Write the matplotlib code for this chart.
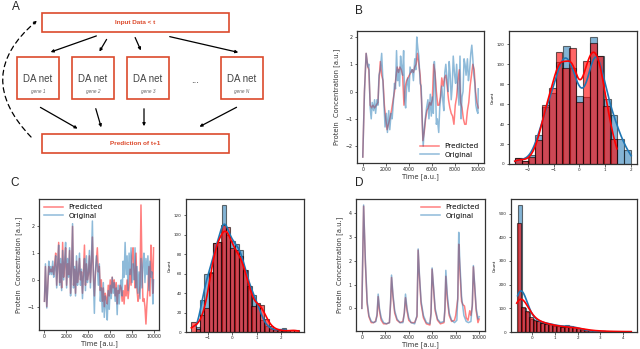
import numpy as np
import matplotlib
matplotlib.use('Agg')
import matplotlib.pyplot as plt
from matplotlib.patches import Rectangle, FancyArrowPatch

# ---------------- data ----------------
gene_labels = ["gene 1", "gene 2", "gene 3", "gene N"]
series_labels = ["Predicted", "Original"]

# Panel B time series
tB_orig = [0,146,292,439,526,643,731,819,936,1023,1111,1228,1316,1404,1520,1637,1754,1842,1930,2047,
           2135,2251,2339,2456,2544,2661,2749,2836,2924,3012,3099,3187,3275,3363,3450,3538,3626,3713,3801,3889,
           4006,4094,4211,4298,4386,4503,4591,4678,4766,4854,4971,5058,5146,5234,5322,5439,5526,5643,5731,5848,
           5936,6023,6111,6199,6287,6374,6462,6579,6667,6754,6842,6930,7018,7105,7193,7310,7398,7485,7573,7661,
           7749,7836,7953,8041,8129,8216,8333,8421,8509,8596,8684,8772,8860,8947,9064,9152,9240,9357,9444,9532,
           9620,9708,9795,9883,9971,10000]
yB_orig = [-2.4,0.0,1.4,0.9,1.0,-0.6,-1.0,-0.4,-0.7,-0.3,
           -0.8,-0.3,-0.5,0.6,0.8,1.4,0.3,-0.5,-1.3,-0.8,
           -1.5,-0.7,-1.4,-0.8,-1.0,-0.3,0.3,0.1,1.5,0.4,
           0.8,0.2,1.3,0.9,0.6,1.5,-0.3,-0.6,0.2,0.5,
           0.0,0.9,0.7,0.8,0.4,1.2,0.8,2.0,1.6,1.3,
           0.3,0.2,-1.0,-2.0,-1.4,-0.9,-0.6,-0.3,-1.0,-0.1,
           -0.9,-0.2,-0.8,1.1,0.4,-1.2,-1.0,-1.5,-0.6,-0.2,
           0.2,-0.3,-0.7,0.7,1.0,0.4,0.0,1.1,0.6,-0.3,
           0.2,1.3,0.6,0.3,1.0,0.2,-0.5,1.3,-1.0,-0.2,
           0.0,1.2,1.0,0.6,1.2,0.4,0.7,1.4,1.7,1.2,
           0.6,0.3,-0.5,-0.7,-0.8,0.1]
tB_pred = [0,146,292,439,526,643,760,877,1023,1170,1316,1404,1520,1637,1754,1871,1988,2105,2222,2339,
           2485,2632,2749,2865,2982,3099,3216,3333,3450,3567,3684,3801,3918,4035,4152,4269,4386,4503,4620,4737,
           4854,4971,5088,5205,5322,5439,5556,5673,5790,5906,6023,6140,6257,6374,6491,6608,6725,6842,6959,7076,
           7193,7310,7427,7544,7661,7778,7895,8012,8129,8246,8363,8480,8596,8713,8830,8947,9064,9181,9298,9415,
           9532,9649,9766,9883,10000]
yB_pred = [-2.4,0.0,1.4,0.9,0.8,-0.5,-0.6,-0.5,-0.6,-0.5,
           -0.4,0.4,1.1,0.6,0.4,-0.5,-1.0,-1.4,-1.2,-1.0,
           -0.7,-0.3,0.0,0.5,0.9,0.7,0.9,0.8,0.6,-0.5,
           0.2,0.4,0.5,0.6,0.7,0.8,0.7,0.9,1.0,1.4,
           1.0,0.6,-0.3,-1.8,-1.5,-1.0,-0.7,-0.6,-0.4,-0.5,
           -0.3,1.0,0.7,0.0,-0.5,-0.5,-0.2,0.5,0.2,0.5,
           0.6,0.2,-0.3,-0.6,-0.8,-0.9,-1.2,-0.5,-0.2,0.4,
           0.8,-0.4,-0.6,-1.0,-1.2,-1.2,-0.7,-0.4,0.2,0.6,
           1.0,0.8,0.0,-0.4,-0.6]

# Panel C time series (shared time grid)
tC = [0,91,212,303,394,485,576,667,758,848,939,1030,1121,1212,1303,1394,1485,1576,1667,1758,
      1848,1939,2030,2121,2212,2303,2394,2485,2576,2667,2758,2848,2939,3030,3121,3212,3303,3394,3485,3576,
      3667,3758,3848,3939,4030,4121,4212,4303,4394,4485,4576,4667,4758,4848,4939,5030,5121,5212,5303,5394,
      5485,5576,5667,5758,5848,5939,6030,6121,6212,6303,6394,6485,6576,6667,6758,6848,6939,7030,7121,7212,
      7303,7394,7485,7576,7667,7758,7848,7939,8030,8121,8212,8303,8394,8485,8576,8667,8758,8848,8939,9030,
      9121,9212,9303,9394,9485,9576,9667,9758,9848,9939,10000]
yC_orig = [-0.8,0.6,-1.05,
           -0.3,0.7,0.2,0.5,0.2,0.7,0.1,0.4,0.9,-0.3,
           0.6,1.3,-0.2,0.8,-0.4,1.1,0.0,0.7,1.4,-0.3,
           0.8,0.1,1.2,-0.6,0.3,2.1,-0.3,0.5,-0.6,0.9,
           -0.2,0.3,1.0,-0.2,0.4,-0.7,0.2,0.8,-0.4,0.9,
           -0.1,0.3,1.1,-0.3,0.7,2.2,0.1,-1.25,0.3,0.9,
           0.5,-0.2,0.6,-0.8,-0.3,-1.2,-0.1,-1.4,-0.6,-1.0,
           -1.5,-0.4,-1.1,-0.2,-0.7,0.1,-0.5,-0.1,-0.8,-0.3,
           -1.3,-0.2,-0.9,-0.3,0.0,-0.6,0.7,0.1,1.4,0.2,
           0.9,-0.4,1.0,0.2,1.2,-0.1,0.6,0.0,1.2,-0.3,
           0.5,-0.5,0.3,-0.7,0.8,-0.3,0.6,1.0,-0.1,0.8,
           0.2,0.9,-0.4,0.7,0.1,0.3,-0.9,
           0.0]
yC_pred = [-0.8,0.5,-1.0,
           -0.2,0.5,0.3,0.4,0.3,0.5,0.2,0.6,1.0,-0.2,
           0.5,1.4,-0.1,0.6,-0.3,1.4,0.1,0.5,1.2,-0.2,
           0.6,0.2,1.1,-0.5,0.4,2.0,-0.2,0.4,-0.5,0.7,
           -0.1,0.2,0.8,0.0,0.3,-0.5,0.3,1.3,-0.2,0.6,
           0.0,0.2,0.9,-0.1,0.6,1.6,0.2,-0.6,0.2,0.7,
           1.2,0.3,0.5,-0.4,0.0,-0.8,-0.3,-1.0,-0.5,-0.7,
           -0.9,-0.2,-0.6,0.0,-0.5,0.1,-0.3,0.0,-0.6,-0.1,
           -0.9,-0.4,-0.5,-0.2,-0.3,-0.8,-0.4,-0.9,-0.2,-0.6,
           0.0,-0.7,-0.3,0.4,-0.2,0.9,1.2,0.3,-0.3,1.0,
           -0.4,-0.8,-0.6,-0.2,2.8,0.5,-0.8,-0.7,-1.0,-1.65,
           -0.9,-0.3,0.5,-0.6,1.3,0.5,-0.5,
           1.2]

# Panel D time series
tD_orig = [0,150,300,450,600,800,1000,1200,1300,1390,1500,1650,1850,2100,2350,2450,2530,2650,2800,3000,
           3250,3500,3620,3720,3850,4000,4200,4500,4700,4800,4900,5050,5250,5500,5800,5900,5990,6100,6250,6450,
           6700,7000,7080,7160,7280,7450,7650,7900,8100,8180,8260,8350,8500,8700,8900,9100,9300,9420,9510,9620,
           9750,9900,10000]
yD_orig = [0.0,4.35,2.0,0.3,-0.3,-0.55,-0.6,-0.55,-0.2,0.6,
           0.0,-0.4,-0.6,-0.65,-0.6,0.3,1.4,0.6,-0.1,-0.45,
           -0.6,-0.6,-0.2,0.6,0.0,-0.4,-0.6,-0.65,-0.3,2.5,
           1.5,0.3,-0.3,-0.6,-0.65,-0.2,1.7,1.0,0.0,-0.45,
           -0.6,-0.55,0.0,1.6,0.6,-0.2,-0.5,-0.6,-0.5,0.5,
           3.2,2.0,0.5,-0.3,-0.55,-0.6,-0.55,0.2,1.8,1.0,
           0.0,-0.45,-0.35]
tD_pred = [0,150,300,450,600,800,1000,1150,1300,1390,1500,1650,1850,2100,2350,2450,2530,2650,2800,3000,
           3250,3500,3620,3720,3850,4000,4200,4500,4700,4800,4900,5050,5250,5500,5800,5900,5990,6100,6250,6450,
           6700,7000,7080,7160,7280,7450,7650,7900,8000,8180,8260,8350,8500,8620,8750,8900,9050,9200,9300,9420,
           9510,9620,9750,9900,10000]
yD_pred = [0.0,4.3,1.9,0.2,-0.35,-0.6,-0.6,-0.55,-0.3,0.5,
           -0.1,-0.5,-0.65,-0.65,-0.6,0.2,1.3,0.5,-0.2,-0.5,
           -0.6,-0.55,-0.2,0.45,-0.1,-0.5,-0.6,-0.6,-0.35,2.45,
           1.4,0.2,-0.4,-0.65,-0.7,-0.2,1.65,0.9,-0.1,-0.5,
           -0.65,-0.6,-0.1,1.35,0.4,-0.3,-0.55,-0.5,-0.3,0.4,
           2.7,1.7,0.3,0.15,0.1,-0.4,-0.5,-0.1,-0.3,0.1,
           1.75,0.9,-0.1,-0.6,-0.45]

# Histograms: bin range (low, high) and counts per equal-width bin
histB_orig_range = (-2.5, 2.0)
histB_orig_counts = [6,3,9,29,57,71,102,118,96,68,67,127,108,65,49,25,14]
histB_pred_range = (-2.5, 1.45)
histB_pred_counts = [6,3,7,24,59,76,112,96,116,62,103,121,108,58,25]

histC_orig_range = (-1.48, 2.2)
histC_orig_counts = [5,33,60,62,91,92,130,100,93,90,84,64,47,38,28,12,6,3,2,2,4]
histC_pred_range = (-1.66, 2.7)
histC_pred_counts = [10,3,17,25,61,91,92,110,108,86,84,78,64,47,27,30,28,13,6,3,2,1,1,2,2]

histD_orig_range = (-0.62, 3.2)
histD_orig_counts = [535,100,85,55,48,45,38,37,35,27,24,22,28,25,22,15,8,5,4,3,3,4]
histD_pred_range = (-0.66, 4.35)
histD_pred_counts = [460,105,90,62,50,48,40,35,33,28,25,22,20,20,22,18,14,10,7,5,5,4,3,3,2,2,2,1,5]

time_ticks = [0, 2000, 4000, 6000, 8000, 10000]

# ---------------- figure ----------------
W, H = 640, 349
fig = plt.figure(figsize=(W / 100, H / 100), dpi=100)
plt.rcParams['font.family'] = ['DejaVu Sans']
BLUE = '#1f77b4'
DIAG_RED = '#dc4a2c'
SPINE = '#333333'


def ax_px(l, r, t, b):
    return fig.add_axes([l / W, 1 - b / H, (r - l) / W, (b - t) / H])


def style(ax, labelsize):
    for s in ax.spines.values():
        s.set_color(SPINE)
        s.set_linewidth(0.9)
    ax.tick_params(labelsize=labelsize, length=1.8, width=0.5, pad=1.2, colors='#222222')


def ts_panel(rect, tp, yp, to, yo, yticks, loc, ylab_pad):
    ax = ax_px(*rect)
    ax.plot(tp, yp, color='red', alpha=0.5, lw=1.1, label=series_labels[0])
    ax.plot(to, yo, color=BLUE, alpha=0.5, lw=1.1, label=series_labels[1])
    ax.set_xticks(time_ticks)
    ax.set_yticks(yticks)
    style(ax, 3.4)
    ax.set_ylabel('Protein  Concentration [a.u.]', fontsize=4.9, labelpad=ylab_pad, color='#333333')
    ax.set_xlabel('Time [a.u.]', fontsize=4.9, labelpad=1.0, color='#333333')
    ax.legend(loc=loc, frameon=False, fontsize=5.2, handlelength=2.6, borderaxespad=0.3,
              labelspacing=0.35, handletextpad=0.8)
    return ax


def kde_counts(lo, hi, counts, xs, bw_adjust):
    counts = np.asarray(counts, float)
    edges = np.linspace(lo, hi, len(counts) + 1)
    centers = 0.5 * (edges[:-1] + edges[1:])
    n = counts.sum()
    mean = (centers * counts).sum() / n
    std = np.sqrt((counts * (centers - mean) ** 2).sum() / n)
    bw = std * n ** (-0.2) * bw_adjust
    dens = (counts[None, :] * np.exp(-0.5 * ((xs[:, None] - centers[None, :]) / bw) ** 2)).sum(1)
    dens /= n * bw * np.sqrt(2 * np.pi)
    return dens * n * (edges[1] - edges[0])


def hist_panel(rect, rng_o, cnt_o, rng_p, cnt_p, xticks, yticks, bw_adjust=1.0):
    ax = ax_px(*rect)
    layers = [(rng_o, cnt_o, BLUE, 0.55), (rng_p, cnt_p, 'red', 0.6)]
    for (lo, hi), cnt, col, a in layers:
        edges = np.linspace(lo, hi, len(cnt) + 1)
        ax.bar(edges[:-1], cnt, width=np.diff(edges), align='edge', color=col, alpha=a,
               edgecolor='black', linewidth=0.8)
    for (lo, hi), cnt, col, a in layers:
        xs = np.linspace(lo, hi, 300)
        ax.plot(xs, kde_counts(lo, hi, cnt, xs, bw_adjust), color=col, lw=1.2)
    ax.set_xticks(xticks)
    ax.set_yticks(yticks)
    style(ax, 3.0)
    ax.set_ylabel('Count', fontsize=3.0, labelpad=1.5)
    return ax


# B
ts_panel((357, 484, 31, 163), tB_pred, yB_pred, tB_orig, yB_orig, [-2, -1, 0, 1, 2], 'lower right', 4)
hist_panel((509, 637, 31, 164), histB_orig_range, histB_orig_counts, histB_pred_range, histB_pred_counts,
           [-2, -1, 0, 1, 2], [0, 20, 40, 60, 80, 100, 120])
# C
ts_panel((39, 159, 199, 330), tC, yC_pred, tC, yC_orig, [-1, 0, 1, 2], 'upper left', 4)
hist_panel((186, 304, 199, 332), histC_orig_range, histC_orig_counts, histC_pred_range, histC_pred_counts,
           [-1, 0, 1, 2], [0, 20, 40, 60, 80, 100, 120])
# D
ts_panel((356, 485, 199, 331), tD_pred, yD_pred, tD_orig, yD_orig, [0, 1, 2, 3, 4], 'upper right', 4)
hist_panel((511, 637, 199, 332), histD_orig_range, histD_orig_counts, histD_pred_range, histD_pred_counts,
           [0, 1, 2, 3, 4], [0, 100, 200, 300, 400, 500], bw_adjust=1.35)

# ---------------- panel A diagram + letters (overlay in pixel coords) ----------------
ov = fig.add_axes([0, 0, 1, 1], zorder=-1)
ov.set_xlim(0, W)
ov.set_ylim(H, 0)
ov.axis('off')
LF = ['Liberation Sans', 'DejaVu Sans']

ov.add_patch(Rectangle((42, 13), 187, 19, fill=False, edgecolor=DIAG_RED, lw=1.2))
ov.text(135.5, 22.5, 'Input Data < t', ha='center', va='center', fontsize=4.6, fontweight='bold',
        color=DIAG_RED, family=LF)
ov.add_patch(Rectangle((42, 134), 187, 19, fill=False, edgecolor=DIAG_RED, lw=1.2))
ov.text(135.5, 143.5, 'Prediction of t+1', ha='center', va='center', fontsize=4.6, fontweight='bold',
        color=DIAG_RED, family=LF)
for x0, g in zip([17, 72, 127, 221], gene_labels):
    ov.add_patch(Rectangle((x0, 57), 42, 42, fill=False, edgecolor=DIAG_RED, lw=1.2))
    ov.text(x0 + 21, 79, 'DA net', ha='center', va='center', fontsize=7, color='#444444', family=LF)
    ov.text(x0 + 21, 91, g, ha='center', va='center', fontsize=3.4, style='italic', color='#666666',
            family=LF)
ov.text(195, 80, '...', ha='center', va='center', fontsize=7, color='#333333', family=LF)

arrows = [((99, 35), (48, 53)), ((108, 37), (98, 54)), ((134, 35), (142, 53)), ((167, 36), (241, 53)),
          ((38, 106), (80, 130)), ((95, 106), (102, 130)), ((144, 106), (144, 129)), ((239, 106), (197, 128))]
for p0, p1 in arrows:
    ov.add_patch(FancyArrowPatch(p0, p1, arrowstyle='-|>', mutation_scale=4, lw=0.9, color='black'))
ov.add_patch(FancyArrowPatch((33, 139), (39, 19), connectionstyle='arc3,rad=-0.55', arrowstyle='-|>',
                             mutation_scale=4, lw=0.9, color='black', linestyle=(0, (4, 3))))

for x, y, s in [(16, 7, 'A'), (359, 11, 'B'), (15, 183, 'C'), (359, 183, 'D')]:
    ov.text(x, y, s, ha='center', va='center', fontsize=8.5, family=LF, color='#222222')

fig.savefig('out.png', dpi=100)
